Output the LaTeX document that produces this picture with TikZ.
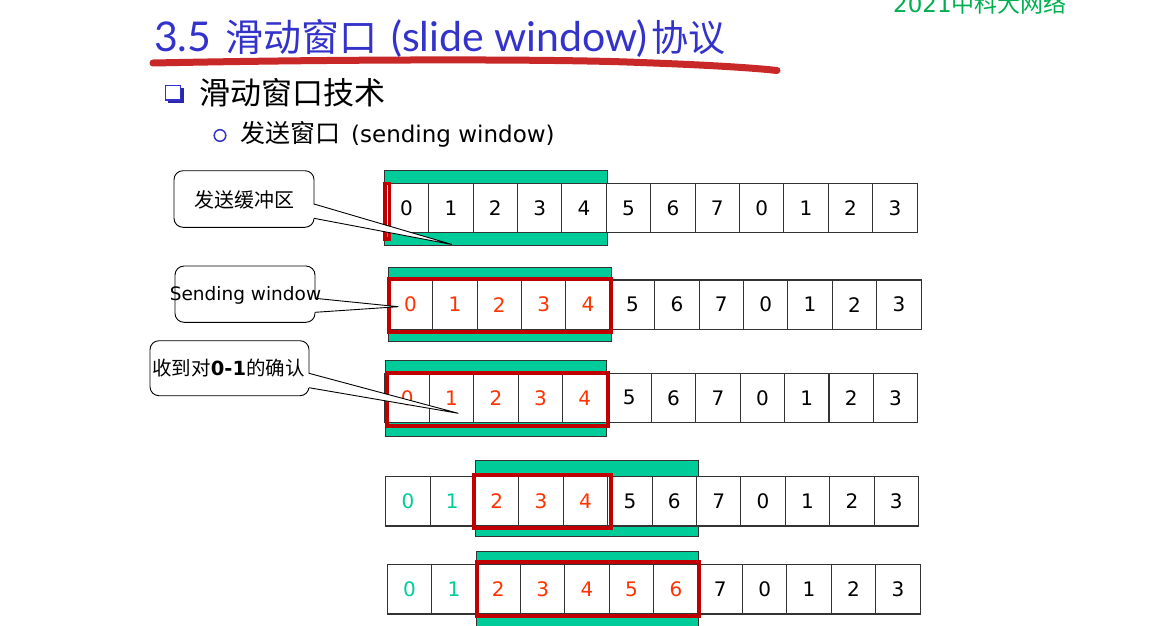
\documentclass[tikz,border=0pt]{standalone}
\usepackage{fontspec}
\setmainfont{DejaVu Sans}
\newfontfamily\cjk{Noto Sans CJK SC}
\newfontfamily\lato{Lato}
\definecolor{teal1}{HTML}{00CC99}
\definecolor{numred}{HTML}{FF3300}
\definecolor{winred}{HTML}{C00000}
\definecolor{titleblue}{HTML}{3333CC}
\definecolor{brush}{HTML}{C82828}
\definecolor{logogreen}{HTML}{00B050}
\definecolor{cellline}{HTML}{333333}
\newcommand\cellrow[5]{%
  \foreach \d/\c [count=\i from 0] in {#5}{%
    \node[cell, minimum height=#4pt, text=\c] (#1c\i) at ({#2+44.4*\i+22.2},#3) {\d};
  }%
}
\begin{document}
\begin{tikzpicture}[x=1pt,y=-1pt,
  cell/.style={draw=cellline, line width=1.1pt, fill=white, minimum width=44.4pt, inner sep=0pt, font=\fontsize{20}{24}\selectfont},
  buf/.style={fill=teal1, draw=cellline, line width=1pt},
  win/.style={draw=winred, line width=3.8pt},
  callbox/.style={draw=black, line width=0.9pt, fill=white, rounded corners=9pt, inner sep=0pt},
  wedgeline/.style={draw=black, line width=0.9pt},
  lbl/.style={inner sep=0pt},
]
\clip (0,0) rectangle (1151,625);
\fill[white] (0,0) rectangle (1151,625);

% title
\node[anchor=base west, lbl, text=titleblue] (title) at (154,51.5)
  {\lato\fontsize{41}{48}\selectfont 3.5 \hspace{4pt}{\cjk\fontsize{38}{42}\selectfont 滑动窗口}\hspace{14pt}(slide window)\hspace{4pt}{\cjk\fontsize{37}{42}\selectfont 协议}};
\draw[draw=brush, line width=7pt, line cap=round]
  (153,63) .. controls (350,59) and (560,59) .. (640,62.5) .. controls (710,65) and (755,68) .. (777,70.5);
\node[anchor=base west, lbl, text=logogreen] (logo) at (893,12)
  {\fontsize{23}{26}\selectfont 2021{\cjk 中科大网络}};

% bullets
\fill[titleblue!80!black] (168,88) rectangle (184,103);
\filldraw[fill=white, draw=titleblue, line width=1.8pt] (165.5,85.5) rectangle (180.5,100);
\node[anchor=base west, lbl] (l1) at (199,104) {\cjk\fontsize{31}{34}\selectfont 滑动窗口技术};
\draw[titleblue, line width=1.5pt] (220,135.5) circle[radius=5.8];
\node[anchor=base west, lbl] (l2) at (240,142)
  {{\cjk\fontsize{25}{28}\selectfont 发送窗口}\hspace{11pt}\fontsize{23}{26}\selectfont(sending window)};

% buffers
\path[buf] (384.3,170.7) rectangle (607.3,245);
\path[buf] (388.3,267.3) rectangle (611.3,341.7);
\path[buf] (385,360) rectangle (606.7,436);
\path[buf] (475,460.7) rectangle (698.3,536.7);
\path[buf] (476.7,551.7) rectangle (698.3,640);

% cells
\cellrow{ra}{384.3}{208.2}{49}{0/black,1/black,2/black,3/black,4/black,5/black,6/black,7/black,0/black,1/black,2/black,3/black}
\cellrow{rb}{388.3}{304.65}{49.3}{0/numred,1/numred,2/numred,3/numred,4/numred,5/black,6/black,7/black,0/black,1/black,2/black,3/black}
\cellrow{rc}{385}{397.8}{49}{0/numred,1/numred,2/numred,3/numred,4/numred,5/black,6/black,7/black,0/black,1/black,2/black,3/black}
\cellrow{rd}{385.7}{501.35}{49.3}{0/teal1,1/teal1,2/numred,3/numred,4/numred,5/black,6/black,7/black,0/black,1/black,2/black,3/black}
\cellrow{re}{387.3}{589.15}{49.7}{0/teal1,1/teal1,2/numred,3/numred,4/numred,5/numred,6/numred,7/black,0/black,1/black,2/black,3/black}

% windows
\draw[win, line width=3.4pt] (385.1,183.7) rectangle (389.4,239);
\draw[win] (389,278.7) rectangle (610.7,332);
\draw[win] (387,373) rectangle (608,425.7);
\draw[win] (473.7,474.7) rectangle (611.3,528);
\draw[win] (477,562) rectangle (699,615.7);

% callout 1
\node[callbox, minimum width=140pt, minimum height=56.6pt] (cb1) at (244,199) {};
\coordinate (tip1) at (452,244.5);
\fill[white] (312,204) -- (tip1) -- (312,218.3) -- cycle;
\draw[wedgeline] (314,204) -- (tip1) -- (314,218.3);
\node[lbl] (txt1) at (244,200) {\cjk\fontsize{20}{24}\selectfont 发送缓冲区};

% callout 2
\node[callbox, minimum width=140pt, minimum height=56.3pt] (cb2) at (245,294.15) {};
\coordinate (tip2) at (398.3,306.7);
\fill[white] (313,298.3) -- (tip2) -- (313,312.3) -- cycle;
\draw[wedgeline] (315,298.3) -- (tip2) -- (315,312.3);
\node[lbl] (txt2) at (245.5,295) {\fontsize{18.5}{22}\selectfont Sending window};

% callout 3
\node[callbox, minimum width=159pt, minimum height=55pt] (cb3) at (229.5,368.2) {};
\coordinate (tip3) at (458.3,413.3);
\fill[white] (307,373.3) -- (tip3) -- (307,387.7) -- cycle;
\draw[wedgeline] (309,373.3) -- (tip3) -- (309,387.7);
\node[lbl] (txt3) at (228.5,368)
  {\fontsize{19.5}{23}\selectfont{\cjk 收到对}\textbf{0-1}{\cjk 的确认}};
\end{tikzpicture}
\end{document}
